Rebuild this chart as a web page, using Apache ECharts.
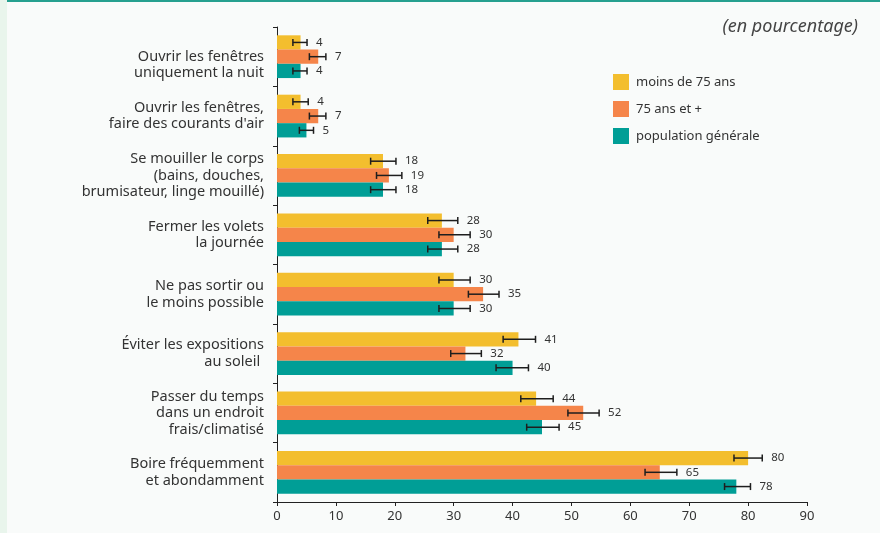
<!DOCTYPE html>
<html>
<head>
<meta charset="utf-8">
<script src="https://cdn.jsdelivr.net/npm/echarts@6/dist/echarts.min.js"></script>
<style>
  html, body { margin: 0; padding: 0; background: #f9fbfa; }
  #chart { width: 880px; height: 533px; }
</style>
</head>
<body>
<div id="chart"></div>
<script>
// catégories (de haut en bas)
var categories = [
  'Ouvrir les fenêtres\nuniquement la nuit',
  'Ouvrir les fenêtres,\nfaire des courants d\'air',
  'Se mouiller le corps\n(bains, douches,\nbrumisateur, linge mouillé)',
  'Fermer les volets\nla journée',
  'Ne pas sortir ou\nle moins possible',
  'Éviter les expositions\nau soleil ',
  'Passer du temps\ndans un endroit\nfrais/climatisé',
  'Boire fréquemment\net abondamment'
]
var seriesNames = ['moins de 75 ans', '75 ans et +', 'population générale']

// valeurs (%)
var moins75 = [4, 4, 18, 28, 30, 41, 44, 80]
var plus75 = [7, 7, 19, 30, 35, 32, 52, 65]
var popGen = [4, 5, 18, 28, 30, 40, 45, 78]

// intervalles de confiance (bas / haut)
var moins75Low = [2.7, 2.7, 15.9, 25.6, 27.5, 38.4, 41.4, 77.6]
var moins75High = [5.1, 5.3, 20.2, 30.7, 32.8, 43.9, 46.9, 82.4]
var plus75Low = [5.5, 5.5, 16.9, 27.5, 32.5, 29.5, 49.4, 62.5]
var plus75High = [8.3, 8.3, 21.2, 32.8, 37.7, 34.7, 54.7, 67.9]
var popGenLow = [2.7, 3.8, 15.9, 25.6, 27.5, 37.2, 42.4, 76.0]
var popGenHigh = [5.1, 6.2, 20.2, 30.7, 32.8, 42.7, 47.9, 80.4]

var xTicks = { min: 0, max: 90, interval: 10 }

var colors = ['#f3be2e', '#f5854a', '#009e96']
var FONT = '"Noto Sans", "Open Sans", sans-serif'
var CAT_GAP = 0.28

var chart = echarts.init(document.getElementById('chart'))

// barre d'erreur + étiquette de valeur, dessinées par une série custom
function errorSeries(idx, values, low, high) {
  var data = values.map(function (v, i) {
    return [low[i], high[i], i, v]
  })
  return {
    type: 'custom',
    name: seriesNames[idx] + ' IC',
    data: data,
    encode: { x: [0, 1], y: 2 },
    clip: false,
    z: 10,
    renderItem: function (params, api) {
      var cat = api.value(2)
      var p1 = api.coord([api.value(0), cat])
      var p2 = api.coord([api.value(1), cat])
      var band = api.size([0, 1])[1]
      var bw = band * (1 - CAT_GAP) / 3
      var y = p1[1] + (idx - 1) * bw
      var cap = 3.5
      var lineStyle = { stroke: '#1e1e1e', lineWidth: 1.5 }
      return {
        type: 'group',
        children: [
          { type: 'line', shape: { x1: p1[0], y1: y, x2: p2[0], y2: y }, style: lineStyle },
          { type: 'line', shape: { x1: p1[0], y1: y - cap, x2: p1[0], y2: y + cap }, style: lineStyle },
          { type: 'line', shape: { x1: p2[0], y1: y - cap, x2: p2[0], y2: y + cap }, style: lineStyle },
          {
            type: 'text',
            style: {
              text: String(api.value(3)),
              x: p2[0] + 9,
              y: y,
              verticalAlign: 'middle',
              align: 'left',
              fill: '#333',
              fontSize: 11.5,
              fontFamily: FONT
            }
          }
        ]
      }
    }
  }
}

function barSeries(idx, values) {
  return {
    type: 'bar',
    name: seriesNames[idx],
    data: values,
    barGap: 0,
    barCategoryGap: CAT_GAP * 100 + '%',
    itemStyle: { color: colors[idx] }
  }
}

// la première étiquette est un peu plus basse dans l'original :
// une ligne vide au-dessus la décale d'une demi-ligne
var yLabels = categories.map(function (c, i) {
  return i === 0 ? '\n' + c : c
})

var option = {
  backgroundColor: '#f9fbfa',
  animation: false,
  textStyle: { fontFamily: FONT },
  title: {
    text: '(en pourcentage)',
    right: 17,
    top: 13,
    textStyle: {
      fontSize: 18,
      fontStyle: 'italic',
      fontWeight: 'normal',
      color: '#444',
      fontFamily: FONT
    }
  },
  legend: {
    data: seriesNames,
    orient: 'vertical',
    left: 613,
    top: 74,
    padding: 0,
    itemWidth: 16,
    itemHeight: 16,
    itemGap: 11,
    icon: 'rect',
    textStyle: { fontSize: 13, color: '#333', fontFamily: FONT, padding: [0, 0, 0, 2] }
  },
  graphic: [
    // bande verte à gauche et filet en haut
    { type: 'rect', left: 0, top: 0, shape: { width: 7, height: 533 }, style: { fill: '#e9f5ec' }, silent: true },
    { type: 'rect', left: 7, top: 0, shape: { width: 873, height: 2 }, style: { fill: '#26a08f' }, silent: true }
  ],
  grid: {
    left: 277,
    right: 73,
    top: 27,
    bottom: 31
  },
  xAxis: {
    type: 'value',
    min: xTicks.min,
    max: xTicks.max,
    interval: xTicks.interval,
    splitLine: { show: false },
    axisLine: { show: true, lineStyle: { color: '#222', width: 1 } },
    axisTick: { show: true, length: 4, lineStyle: { color: '#222' } },
    axisLabel: { fontSize: 13, color: '#333', margin: 8, fontFamily: FONT }
  },
  yAxis: {
    type: 'category',
    inverse: true,
    data: yLabels,
    axisLine: { show: true, lineStyle: { color: '#222', width: 1 } },
    axisTick: { show: true, length: 4, lineStyle: { color: '#222' } },
    axisLabel: {
      fontSize: 14.5,
      lineHeight: 16.5,
      color: '#333',
      margin: 13,
      align: 'right',
      fontFamily: FONT
    }
  },
  series: [
    barSeries(0, moins75),
    barSeries(1, plus75),
    barSeries(2, popGen),
    errorSeries(0, moins75, moins75Low, moins75High),
    errorSeries(1, plus75, plus75Low, plus75High),
    errorSeries(2, popGen, popGenLow, popGenHigh)
  ]
}

chart.setOption(option)
</script>
</body>
</html>
